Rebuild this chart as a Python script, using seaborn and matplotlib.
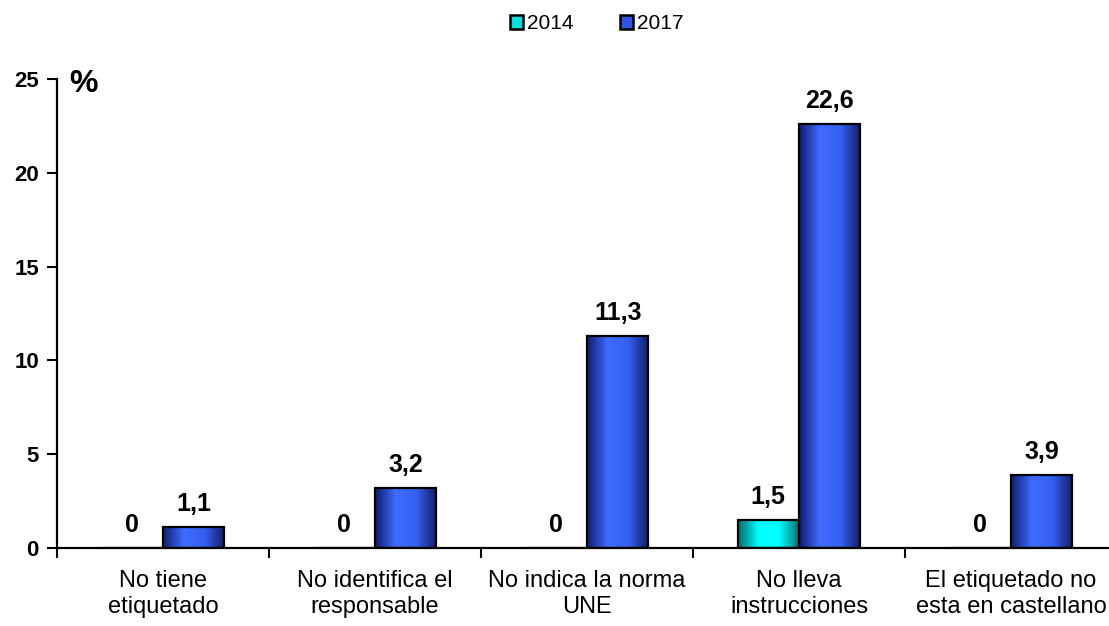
import numpy as np
import pandas as pd
import matplotlib.pyplot as plt
import matplotlib.colors as mcolors
import seaborn as sns

categories = ["No tiene\netiquetado", "No identifica el\nresponsable", "No indica la norma\nUNE",
              "No lleva\ninstrucciones", "El etiquetado no\nesta en castellano"]
years = ["2014", "2017"]
vals_2014 = [0, 0, 0, 1.5, 0]
vals_2017 = [1.1, 3.2, 11.3, 22.6, 3.9]
yticks = [0, 5, 10, 15, 20, 25]

df = pd.DataFrame({
    "cat": categories * 2,
    "year": ["2014"] * 5 + ["2017"] * 5,
    "val": vals_2014 + vals_2017,
})

sns.set_style("white")
plt.rcParams["font.family"] = ["Liberation Sans", "DejaVu Sans"]
plt.rcParams["text.color"] = "black"
plt.rcParams["xtick.color"] = "black"
plt.rcParams["ytick.color"] = "black"

fig = plt.figure(figsize=(11.09, 6.26), dpi=100)
ax = fig.add_axes([57 / 1109, 1 - 548 / 626, 1060 / 1109, 469 / 626])

pal = {"2014": "#00E5E5", "2017": "#2E55E8"}
sns.barplot(data=df, x="cat", y="val", hue="year", palette=pal, width=0.58,
            edgecolor="black", linewidth=1.6, ax=ax, legend=False)

# gradient fill: dark edges, bright centre
grads = {
    "2014": ["#006f70", "#00ffff", "#00ffff", "#006f70"],
    "2017": ["#101e70", "#3f6bff", "#3560f0", "#121f6a"],
}
for cont, yr in zip(ax.containers, years):
    cmap = mcolors.LinearSegmentedColormap.from_list(yr, grads[yr])
    for p in cont.patches:
        h = p.get_height()
        if h <= 0:
            continue
        x0, w = p.get_x(), p.get_width()
        img = ax.imshow(np.linspace(0, 1, 64).reshape(1, -1), cmap=cmap, aspect="auto",
                        extent=[x0, x0 + w, 0, h], zorder=p.get_zorder() - 0.1)
        img.set_clip_path(p)
        p.set_facecolor("none")
    ax.bar_label(cont, labels=[f"{v:g}".replace(".", ",") for v in cont.datavalues],
                 padding=8, fontsize=18, fontweight="bold")

ax.set_xlim(-0.5, 4.5)
ax.set_ylim(0, 25)
ax.set_yticks(yticks)
ax.set_yticklabels([str(t) for t in yticks], fontsize=16, fontweight="bold")
ax.set_xticks(range(5))
ax.set_xticklabels(categories, fontsize=17, linespacing=1.25)
ax.set_xticks(np.arange(-0.5, 5, 1), minor=True)
ax.tick_params(axis="x", which="major", length=0, pad=16)
ax.tick_params(axis="x", which="minor", length=7, width=1.5, direction="out", bottom=True)
ax.tick_params(axis="y", length=7, width=1.5, direction="out", left=True, pad=6)
ax.set_xlabel("")
ax.set_ylabel("")
for s in ["top", "right"]:
    ax.spines[s].set_visible(False)
for s in ["left", "bottom"]:
    ax.spines[s].set_linewidth(1.6)
    ax.spines[s].set_color("black")

ax.text(0.012, 24.75, "%", transform=ax.get_yaxis_transform(), fontsize=23,
        fontweight="bold", va="center", ha="left")

handles = [plt.Rectangle((0, 0), 1, 1, facecolor=c, edgecolor="black", linewidth=1.8)
           for c in ["#00e0e0", "#2e55e8"]]
fig.legend(handles, years, loc="center", bbox_to_anchor=(0.538, 0.962), ncol=2,
           frameon=False, fontsize=15, handlelength=0.65, handleheight=0.65,
           handletextpad=0.2, columnspacing=2.2)

fig.savefig("out.png", dpi=100)
